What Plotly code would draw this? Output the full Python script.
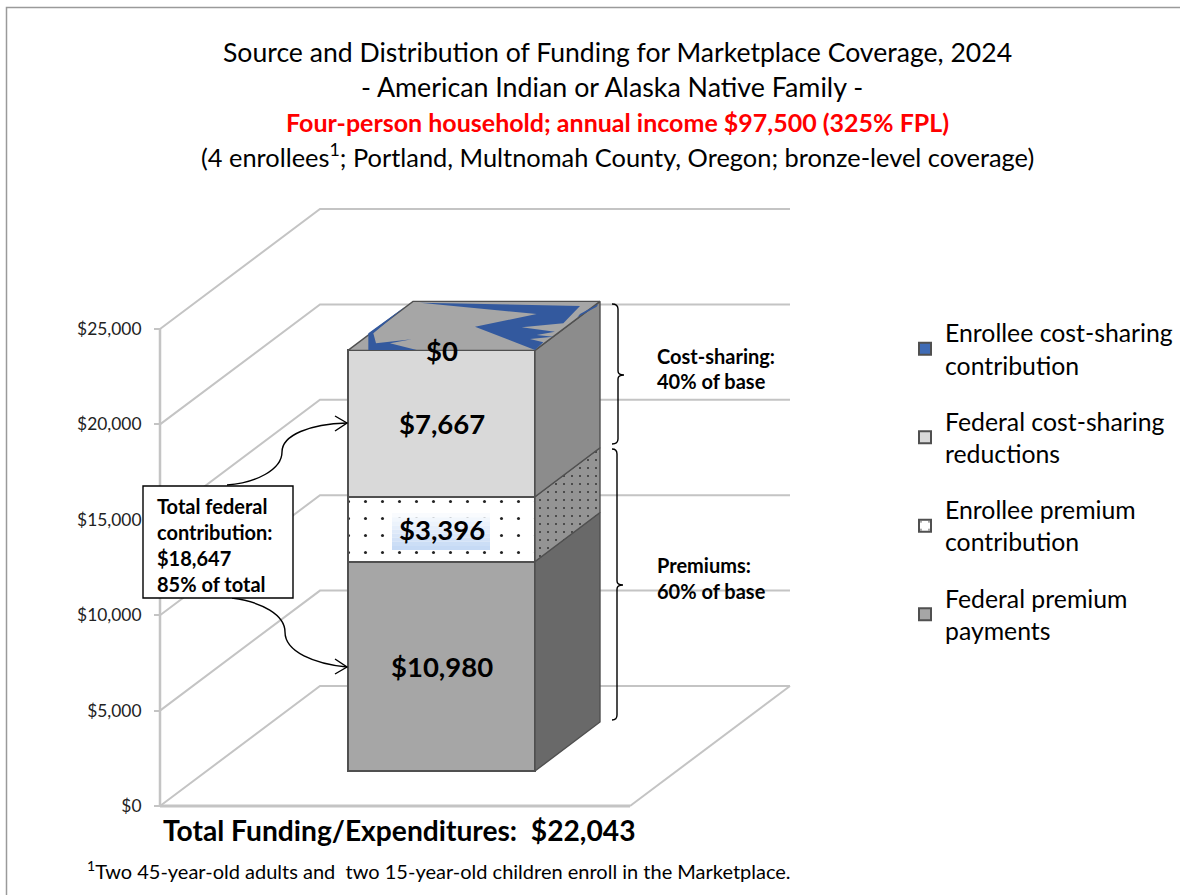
import plotly.graph_objects as go

# ---- data ----
series_names = ["Federal premium<br>payments", "Enrollee premium<br>contribution",
                "Federal cost-sharing<br>reductions", "Enrollee cost-sharing<br>contribution"]
series_values = [10980, 3396, 7667, 0]
value_labels = ["$10,980", "$3,396", "$7,667", "$0"]
axis_ticks = [0, 5000, 10000, 15000, 20000, 25000]
axis_tick_labels = ["$0", "$5,000", "$10,000", "$15,000", "$20,000", "$25,000"]

front_colors = ["#a6a6a6", "#ffffff", "#d9d9d9", "#3f6bb5"]
side_colors = ["#696969", "#949494", "#8c8c8c", "#8c8c8c"]

# ---- geometry ----
W, H = 1180, 895
PX_PER_USD = 0.01908
ZERO_PY = 806
FONT = "Lato"


def usd(px):  # pixels of height -> dollars
    return px / PX_PER_USD


def py2y(py):
    return (ZERO_PY - py) / PX_PER_USD


def P(py):  # pixel row -> paper fraction
    return 1 - py / H


BAR_L, BAR_R = 348, 535
BAR_FRONT = usd(35)
DEPTH_X, DEPTH_Y = 65, usd(49)
WALL_X, BACK_X, END_X, FLOOR_R = 160, 320, 790, 630
BACK_Y = usd(120)

fig = go.Figure()

# stacked front faces + side faces
cum = 0
bases = []
for name, val, fc, sc, i in zip(series_names, series_values, front_colors, side_colors, range(4)):
    base = BAR_FRONT + cum
    bases.append(base)
    pattern = dict(shape=".", size=17, solidity=0.025, fgcolor="#222222", bgcolor="#ffffff", fillmode="replace") if i == 1 else None
    legend_marker = dict(color=fc, line=dict(color="#505050", width=2))
    if pattern:
        legend_marker["pattern"] = pattern
    fig.add_trace(go.Bar(x=[(BAR_L + BAR_R) / 2], y=[val], base=[base], width=[BAR_R - BAR_L],
                         name=name, marker=legend_marker, legendgroup=f"g{i}", legendrank=4 - i, showlegend=True))
    if val > 0:
        sp = dict(shape=".", size=8, solidity=0.05, fgcolor="#333333", bgcolor=sc, fillmode="replace") if i == 1 else None
        fig.add_trace(go.Scatter(
            x=[BAR_R, BAR_R + DEPTH_X, BAR_R + DEPTH_X, BAR_R, BAR_R],
            y=[base, base + DEPTH_Y, base + val + DEPTH_Y, base + val, base],
            mode="lines", fill="toself", fillcolor=sc, fillpattern=sp,
            line=dict(color="#505050", width=1.4), showlegend=False, hoverinfo="skip"))
    cum += val

# top face, with the blue $0 layer showing through in fragments
top = BAR_FRONT + cum
fig.add_trace(go.Scatter(
    x=[BAR_L, BAR_R, BAR_R + DEPTH_X, BAR_L + DEPTH_X, BAR_L],
    y=[top, top, top + DEPTH_Y, top + DEPTH_Y, top],
    mode="lines", fill="toself", fillcolor="#a6a6a6",
    line=dict(color="#505050", width=1.4), showlegend=False, hoverinfo="skip"))

shards = [
    [(240, 38), (720, 48), (670, 100), (545, 112), (645, 125), (590, 135), (640, 140), (570, 147), (610, 157), (585, 180), (405, 110), (590, 72)],
    [(775, 42), (720, 72), (712, 82), (770, 50)],
    [(195, 50), (85, 130), (85, 180), (230, 180), (150, 160), (215, 148), (108, 160), (100, 130)],
]
for s in shards:
    xs = [340 + p[0] / 3 for p in s] + [340 + s[0][0] / 3]
    ys = [py2y(290 + p[1] / 3) for p in s] + [py2y(290 + s[0][1] / 3)]
    fig.add_trace(go.Scatter(x=xs, y=ys, mode="lines", fill="toself", fillcolor="#33599e",
                             line=dict(width=0), showlegend=False, hoverinfo="skip"))

# ---- shapes ----
shapes = []
GRID = dict(color="#c4c4c4", width=2)


def grid_path(v):
    return (f"M{WALL_X},{v} L{BACK_X},{v + BACK_Y} L{END_X},{v + BACK_Y}")


for v in axis_ticks:
    shapes.append(dict(type="path", path=grid_path(v), xref="x", yref="y", line=GRID, layer="below"))
shapes += [
    dict(type="line", x0=WALL_X, x1=WALL_X, y0=0, y1=25000, xref="x", yref="y", line=dict(color="#c4c4c4", width=2.5), layer="below"),
    dict(type="line", x0=WALL_X, x1=FLOOR_R, y0=0, y1=0, xref="x", yref="y", line=dict(color="#c4c4c4", width=3), layer="below"),
    dict(type="line", x0=FLOOR_R, x1=END_X, y0=0, y1=BACK_Y, xref="x", yref="y", line=GRID, layer="below"),
    # outer frame
    dict(type="path", path=f"M6.5,{P(895)} L6.5,{P(7.5)} L1180,{P(7.5)}", xref="x", yref="paper",
         line=dict(color="#9a9a9a", width=1.5), layer="below"),
]

# gradient behind the $3,396 label
STRIPS = 10
for k in range(STRIPS):
    t = k / (STRIPS - 1)
    r = round(255 + (198 - 255) * t)
    g = round(255 + (218 - 255) * t)
    b = round(255 + (245 - 255) * t)
    shapes.append(dict(type="rect", xref="x", yref="paper", x0=392, x1=490,
                       y0=P(509 + 4.1 * k), y1=P(509 + 4.1 * (k + 1)),
                       fillcolor=f"rgb({r},{g},{b})", line=dict(width=0), layer="above"))

BLACK = dict(color="#000000", width=1.4)


def pth(cmds):
    out = []
    for c, pts in cmds:
        out.append(c + " ".join(f"{x},{P(y)}" for x, y in pts))
    return " ".join(out)


# brackets
shapes += [
    dict(type="path", xref="x", yref="paper", line=BLACK, path=pth([
        ("M", [(612, 304)]), ("Q", [(618, 304), (618, 309)]), ("L", [(618, 371)]), ("Q", [(618, 375), (624, 375)]),
        ("Q", [(618, 375), (618, 379)]), ("L", [(618, 439)]), ("Q", [(618, 444), (612, 444)])])),
    dict(type="path", xref="x", yref="paper", line=BLACK, path=pth([
        ("M", [(612, 449)]), ("Q", [(617, 449), (617, 454)]), ("L", [(617, 581)]), ("Q", [(617, 585), (623, 585)]),
        ("Q", [(617, 585), (617, 589)]), ("L", [(617, 715)]), ("Q", [(617, 720), (612, 720)])])),
]

# callout curves and arrowheads
shapes += [
    dict(type="path", xref="x", yref="paper", line=BLACK, path=pth([
        ("M", [(227, 485)]), ("C", [(255, 483), (282, 470), (282, 452)]), ("C", [(282, 435), (310, 424), (347, 423)])])),
    dict(type="path", xref="x", yref="paper", line=BLACK, path=pth([
        ("M", [(335, 416)]), ("L", [(347, 423)]), ("L", [(335, 431)])])),
    dict(type="path", xref="x", yref="paper", line=BLACK, path=pth([
        ("M", [(232, 598)]), ("C", [(262, 602), (285, 615), (285, 632)]), ("C", [(285, 652), (315, 664), (347, 667)])])),
    dict(type="path", xref="x", yref="paper", line=BLACK, path=pth([
        ("M", [(335, 659)]), ("L", [(347, 667)]), ("L", [(335, 674)])])),
    dict(type="rect", xref="x", yref="paper", x0=143, x1=293, y0=P(486), y1=P(598),
         fillcolor="#ffffff", line=dict(color="#000000", width=1.4), layer="above"),
]

# ---- text ----
ann = []


def text(x, py, s, size, bold=False, color="#000000", xanchor="center"):
    ann.append(dict(x=x, y=P(py), xref="x", yref="paper", text=f"<b>{s}</b>" if bold else s,
                    showarrow=False, xanchor=xanchor, yanchor="middle",
                    font=dict(family=FONT, size=size, color=color)))


text(617, 52, "Source and Distribution of Funding for Marketplace Coverage, 2024", 26.6)
text(612, 87, "- American Indian or Alaska Native Family -", 26.8)
text(617, 122, "Four-person household; annual income $97,500 (325% FPL)", 25)
text_idx = len(ann) - 1
ann[text_idx]["text"] = "<b>Four-person household; annual income $97,500 (325% FPL)</b>"
ann[text_idx]["font"]["color"] = "#ff0000"
text(617, 155, "(4 enrollees<sup>1</sup>; Portland, Multnomah County, Oregon; bronze-level coverage)", 25.4)

for lab, val, base in zip(value_labels, series_values, bases):
    ann.append(dict(x=(BAR_L + BAR_R) / 2, y=base + val / 2, xref="x", yref="y", text=f"<b>{lab}</b>",
                    showarrow=False, font=dict(family=FONT, size=27.5, color="#000000")))

for py, s in zip([506, 532, 558, 584], ["Total federal", "contribution:", "$18,647", "85% of total"]):
    text(155, py, s, 20, bold=True, xanchor="left")
for py, s in zip([356, 381, 565, 591], ["Cost-sharing:", "40% of base", "Premiums:", "60% of base"]):
    text(655, py, s, 20, bold=True, xanchor="left")

text(399, 830, "Total Funding/Expenditures:  $22,043", 28.2, bold=True)
text(439, 870, "<sup>1</sup>Two 45-year-old adults and  two 15-year-old children enroll in the Marketplace.", 20)

fig.update_layout(
    width=W, height=H, margin=dict(l=0, r=0, t=0, b=0), autosize=False,
    paper_bgcolor="#ffffff", plot_bgcolor="#ffffff", barmode="overlay",
    font=dict(family=FONT, color="#000000"),
    xaxis=dict(range=[0, W], visible=False, fixedrange=True),
    yaxis=dict(range=[py2y(H), py2y(0)], anchor="free", position=WALL_X / W, tickmode="array",
               tickvals=axis_ticks, ticktext=axis_tick_labels, showgrid=False, zeroline=False,
               showline=False, ticks="outside", ticklen=6, tickcolor="#c4c4c4", tickwidth=1.5,
               ticklabelstandoff=9,
               tickfont=dict(family=FONT, size=17.4, color="#222222"), fixedrange=True),
    legend=dict(x=905 / W, y=P(310), xanchor="left", yanchor="top", traceorder="grouped",
                tracegroupgap=21, bgcolor="rgba(0,0,0,0)", font=dict(family=FONT, size=24.8, color="#000000")),
    shapes=shapes, annotations=ann, bargap=0,
)

fig.write_html("out.html", config={"displayModeBar": False},
               post_script="document.body.style.margin='0';")
